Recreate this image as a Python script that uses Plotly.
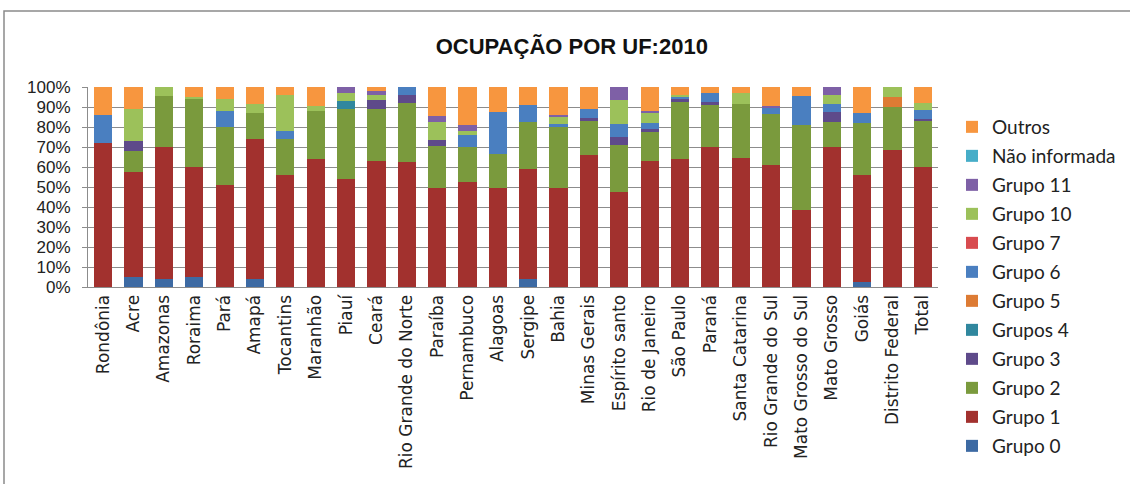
import plotly.graph_objects as go

# Unidades da federação (eixo x)
ufs = ["Rondônia", "Acre", "Amazonas", "Roraima", "Pará", "Amapá", "Tocantins",
       "Maranhão", "Piauí", "Ceará", "Rio Grande do Norte", "Paraíba", "Pernambuco",
       "Alagoas", "Sergipe", "Bahia", "Minas Gerais", "Espírito santo",
       "Rio de Janeiro", "São Paulo", "Paraná", "Santa Catarina", "Rio Grande do Sul",
       "Mato Grosso do Sul", "Mato Grosso", "Goiás", "Distrito Federal", "Total"]

# Participação (%) de cada grupo ocupacional por UF
grupo0 = [0, 5, 4, 5, 0, 4, 0, 0, 0, 0, 0, 0, 0, 0, 4, 0, 0, 0, 0, 0, 0, 0, 0, 0, 0, 2.5, 0, 0]
grupo1 = [72, 52.5, 66, 55, 51, 70, 56, 64, 54, 63, 62.5, 49.5, 52.5, 49.5, 55, 49.5, 66, 47.5,
          63, 64, 70, 64.5, 61, 38.5, 70, 53.5, 68.5, 60]
grupo2 = [0, 10.5, 25.5, 34, 29, 13, 18, 24, 35, 26, 29.5, 21, 17.5, 17, 23.5, 30.5, 17, 23.5,
          14.5, 28.5, 21, 27, 25.5, 42.5, 12.5, 26, 21.5, 23]
grupo3 = [0, 5, 0, 0, 0, 0, 0, 0, 0, 4.5, 4, 3, 0, 0, 0, 0, 1.5, 4, 1.5, 1.5, 1.5, 0, 0, 0, 5, 0, 0, 1]
grupos4 = [0, 0, 0, 0, 0, 0, 0, 0, 4, 0, 0, 0, 0, 0, 0, 0, 0, 0, 0, 0, 0, 0, 0, 0, 0, 0, 0, 0]
grupo5 = [0, 0, 0, 0, 0, 0, 0, 0, 0, 0, 0, 0, 0, 0, 0, 0, 0, 0, 0, 0, 0, 0, 0, 0, 0, 0, 5, 0]
grupo6 = [14, 0, 0, 0, 8, 0, 4, 0, 0, 0, 4, 0, 6, 21, 8.5, 1.5, 4.5, 6.5, 3, 1, 4.5, 0, 3, 14.5,
          4, 5, 0, 4.5]
grupo7 = [0, 0, 0, 0, 0, 0, 0, 0, 0, 0, 0, 0, 0, 0, 0, 0, 0, 0, 0, 0, 0, 0, 0, 0, 0, 0, 0, 0]
grupo10 = [0, 16, 4.5, 1, 6, 4.5, 18, 2.5, 4, 2.5, 0, 9, 2, 0, 0, 3.5, 0, 12, 5, 1, 0, 5.5, 0, 0,
           4.5, 0, 5, 3.5]
grupo11 = [0, 0, 0, 0, 0, 0, 0, 0, 3, 2, 0, 3, 3, 0, 0, 1, 0, 6.5, 1, 0, 0, 0, 1, 0, 4, 0, 0, 0]
nao_informada = [0, 0, 0, 0, 0, 0, 0, 0, 0, 0, 0, 0, 0, 0, 0, 0, 0, 0, 0, 0, 0, 0, 0, 0, 0, 0, 0, 0]
outros = [14, 11, 0, 5, 6, 8.5, 4, 9.5, 0, 2, 0, 14.5, 19, 12.5, 9, 14, 11, 0, 12, 4, 3, 3, 9.5,
          4.5, 0, 13, 0, 8]

series = [
    ("Grupo 0", grupo0, "#3D6AA3"),
    ("Grupo 1", grupo1, "#A2312E"),
    ("Grupo 2", grupo2, "#7A9A3D"),
    ("Grupo 3", grupo3, "#5E4A8A"),
    ("Grupos 4", grupos4, "#30879E"),
    ("Grupo 5", grupo5, "#DD7B34"),
    ("Grupo 6", grupo6, "#4A7FC0"),
    ("Grupo 7", grupo7, "#D84B4F"),
    ("Grupo 10", grupo10, "#9CC15A"),
    ("Grupo 11", grupo11, "#7E60A6"),
    ("Não informada", nao_informada, "#46ADC8"),
    ("Outros", outros, "#F7963F"),
]

fig = go.Figure()
for i, (name, vals, color) in enumerate(series):
    # stacked bottom-up; legend lists the top segment first
    fig.add_trace(go.Bar(
        x=ufs, y=vals, name=name, legendgroup=name,
        legendrank=1000 - i,
        marker=dict(color=color, line=dict(width=0)),
    ))

W, H = 1130, 484
ml, mr, mt, mb = 88, 192, 87, 197
pw, ph = W - ml - mr, H - mt - mb

fig.update_layout(
    width=W, height=H,
    barmode="stack", bargap=0.4,
    paper_bgcolor="white", plot_bgcolor="white",
    margin=dict(l=ml, r=mr, t=mt, b=mb, autoexpand=False),
    title=dict(text="<b>OCUPAÇÃO POR UF:2010</b>", x=0.506, xanchor="center",
               y=1 - 46 / H, yanchor="middle",
               font=dict(family="Liberation Sans Narrow, Arial Narrow, sans-serif",
                         size=22, color="#111111")),
    legend=dict(traceorder="grouped", tracegroupgap=1.3,
                x=(952 - ml) / pw, xanchor="left",
                y=(287 - 108) / ph, yanchor="top",
                maxheight=470,
                font=dict(family="Lato, sans-serif", size=19, color="#222222"),
                itemwidth=30, bgcolor="rgba(0,0,0,0)"),
    showlegend=True,
    shapes=[dict(type="rect", xref="paper", yref="paper",
                 x0=(4 - ml) / pw, x1=(W + 5 - ml) / pw,
                 y0=(287 - H - 5) / ph, y1=(287 - 11) / ph,
                 line=dict(color="#8A8A8A", width=1.5), fillcolor="rgba(0,0,0,0)",
                 layer="below")],
)

fig.update_yaxes(range=[0, 100], dtick=10, ticksuffix="%",
                 showgrid=True, gridcolor="#8C8C8C", gridwidth=1,
                 showline=True, linecolor="#8C8C8C", linewidth=1,
                 ticks="outside", ticklen=5, tickcolor="#8C8C8C",
                 ticklabelstandoff=8,
                 tickfont=dict(family="Liberation Sans Narrow, Arial Narrow, sans-serif",
                               size=17, color="#222222"),
                 zeroline=False, fixedrange=True)
fig.update_xaxes(tickangle=-90, showline=True, linecolor="#8C8C8C", linewidth=1,
                 ticks="", showgrid=False,
                 tickfont=dict(family="DejaVu Sans, sans-serif", size=17, color="#222222"),
                 fixedrange=True)

fig.write_html("out.html")
